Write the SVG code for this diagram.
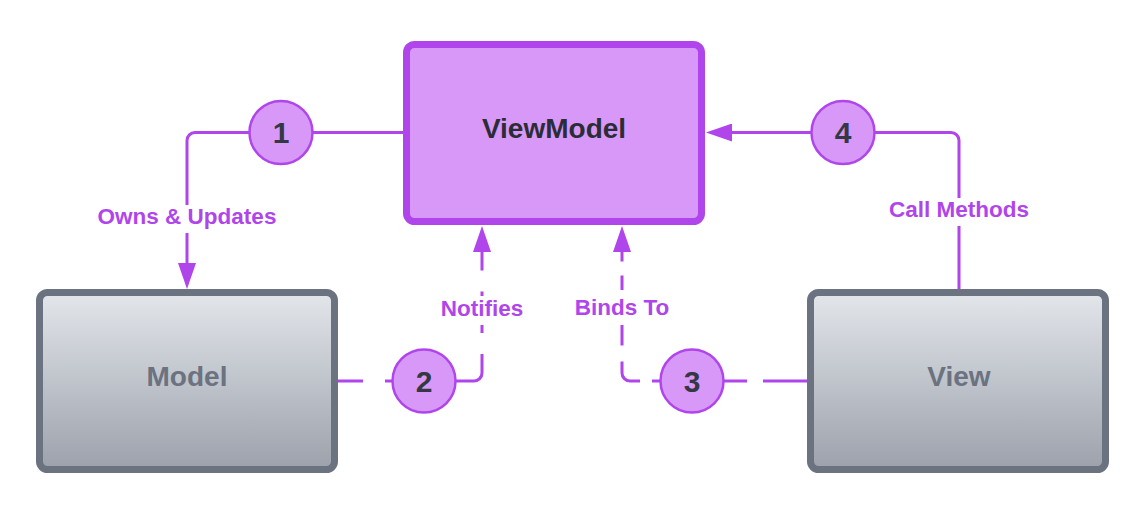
<svg xmlns="http://www.w3.org/2000/svg" width="1144" height="532" viewBox="0 0 1144 532">
  <style>
    .conn { fill: none; stroke: #b045eb; stroke-width: 3; }
    .dash2 { stroke-dasharray: 25 22 120.6 21 41.4 21 30; }
    .dash3 { stroke-dasharray: 44 16 95 12 34 16 70 14 30; }
    .lbl { font-family: "Liberation Sans", Arial, sans-serif; font-weight: bold; font-size: 22.5px; fill: #b045eb; text-anchor: middle; }
    .lblbg { fill: #ffffff; }
    .badge circle { fill: #d898f8; stroke: #b045eb; stroke-width: 2.5; }
    .badge text { font-family: "Liberation Sans", Arial, sans-serif; font-weight: bold; font-size: 30px; fill: #333844; text-anchor: middle; }
    .gray rect { fill: url(#grayGrad); stroke: #6b7280; stroke-width: 7; }
    .gray text { font-family: "Liberation Sans", Arial, sans-serif; font-weight: bold; font-size: 28px; fill: #6b7280; text-anchor: middle; }
    .vm rect { fill: #d898f8; stroke: #b045eb; stroke-width: 7; }
    .vm text { font-family: "Liberation Sans", Arial, sans-serif; font-weight: bold; font-size: 28px; fill: #2b2d36; text-anchor: middle; }
  </style>
  <defs>
    <linearGradient id="grayGrad" x1="0" y1="0" x2="0" y2="1">
      <stop offset="0" stop-color="#e3e6eb"/>
      <stop offset="1" stop-color="#9ca1ab"/>
    </linearGradient>
    <marker id="arrow" markerUnits="userSpaceOnUse" markerWidth="26" markerHeight="18" refX="0" refY="9" orient="auto" viewBox="0 0 26 18">
      <path d="M0,0 L26,9 L0,18 Z" fill="#b045eb"/>
    </marker>
  </defs>
  <rect width="1144" height="532" fill="#ffffff"/>

  <g id="connectors">
    <path class="conn" d="M403,132.5 H195 A8,8 0 0 0 187,140.5 V263" marker-end="url(#arrow)"/>
    <path class="conn" d="M959,289 V140.5 A8,8 0 0 0 951,132.5 H732" marker-end="url(#arrow)"/>
    <path class="conn dash2" d="M338,381 H474 A8,8 0 0 0 482,373 V252" marker-end="url(#arrow)"/>
    <path class="conn dash3" d="M807,381 H630 A8,8 0 0 1 622,373 V252" marker-end="url(#arrow)"/>
    <g id="label-owns">
      <rect class="lblbg" x="94" y="205" width="186" height="28"/>
      <text class="lbl" x="187" y="224">Owns &amp; Updates</text>
    </g>
    <g id="label-call">
      <rect class="lblbg" x="885" y="198" width="148" height="28"/>
      <text class="lbl" x="959" y="217">Call Methods</text>
    </g>
    <g id="label-notifies">
      <rect class="lblbg" x="438" y="296" width="88" height="29"/>
      <text class="lbl" x="482" y="316">Notifies</text>
    </g>
    <g id="label-binds">
      <rect class="lblbg" x="572" y="290" width="100" height="35"/>
      <text class="lbl" x="622" y="315">Binds To</text>
    </g>
    <g id="badge-1" class="badge">
      <circle cx="281" cy="132.5" r="31.5"/>
      <text x="281" y="143">1</text>
    </g>
    <g id="badge-4" class="badge">
      <circle cx="843" cy="132.5" r="31.5"/>
      <text x="843" y="143">4</text>
    </g>
    <g id="badge-2" class="badge">
      <circle cx="424" cy="381" r="31.5"/>
      <text x="424" y="392">2</text>
    </g>
    <g id="badge-3" class="badge">
      <circle cx="692" cy="381" r="31.5"/>
      <text x="692" y="392">3</text>
    </g>
  </g>

  <g id="node-viewmodel" class="vm">
    <rect x="406.5" y="44.5" width="295" height="177" rx="8" ry="8"/>
    <text x="554" y="138">ViewModel</text>
  </g>
  <g id="node-model" class="gray">
    <rect x="39.5" y="292.5" width="295" height="177" rx="8" ry="8"/>
    <text x="187" y="386">Model</text>
  </g>
  <g id="node-view" class="gray">
    <rect x="810.5" y="292.5" width="295" height="177" rx="8" ry="8"/>
    <text x="959" y="386">View</text>
  </g>
</svg>
